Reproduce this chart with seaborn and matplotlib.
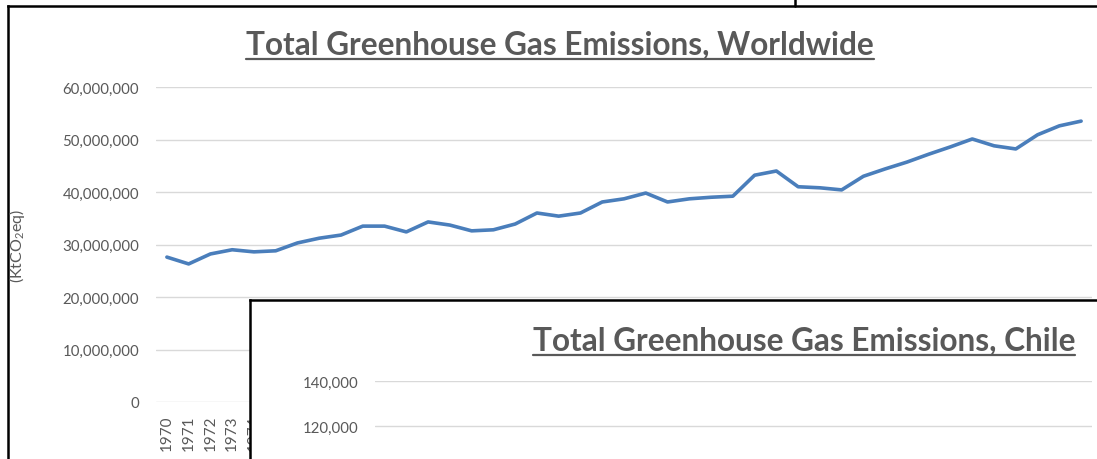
import matplotlib
matplotlib.use("Agg")
import matplotlib.pyplot as plt
from matplotlib.lines import Line2D
from matplotlib.ticker import FuncFormatter
import pandas as pd
import seaborn as sns


# ======================================================
# Data
# ======================================================

years = list(range(1970, 2013))

world_emissions = [
    27.6, 26.3, 28.2, 29.0, 28.6, 28.8, 30.3, 31.2, 31.8, 33.5,
    33.5, 32.4, 34.3, 33.7, 32.6, 32.8, 33.9, 36.0, 35.4, 36.0,
    38.1, 38.7, 39.8, 38.1, 38.7, 39.0, 39.2, 43.2, 44.0, 41.0,
    40.8, 40.4, 43.0, 44.4, 45.7, 47.2, 48.6, 50.1, 48.8, 48.2,
    50.9, 52.6, 53.5,
]
world_emissions = [v * 1_000_000 for v in world_emissions]

world_ticks = [0, 10_000_000, 20_000_000, 30_000_000, 40_000_000, 50_000_000, 60_000_000]
chile_ticks = [0, 20_000, 40_000, 60_000, 80_000, 100_000, 120_000, 140_000]

world_title = "Total Greenhouse Gas Emissions, Worldwide"
chile_title = "Total Greenhouse Gas Emissions, Chile"
y_label = "(KtCO$_2$eq)"


# ======================================================
# Style
# ======================================================

sns.set_theme(style="white")
plt.rcParams["font.family"] = ["Lato", "DejaVu Sans"]
plt.rcParams["mathtext.fontset"] = "custom"
plt.rcParams["mathtext.rm"] = "Lato"
plt.rcParams["mathtext.default"] = "regular"

W, H = 1097, 460
TEXT_GREY = "#595959"
GRID_GREY = "#d9d9d9"
LINE_BLUE = "#4a7ebb"


def px_rect(x0, y0, x1, y1):
    return [x0 / W, 1 - y1 / H, (x1 - x0) / W, (y1 - y0) / H]


def frame_axes(fig, rect, z):
    ax = fig.add_axes(rect)
    ax.set_zorder(z)
    ax.set_facecolor("white")
    ax.set_xticks([])
    ax.set_yticks([])
    for s in ax.spines.values():
        s.set_color("black")
        s.set_linewidth(1.8)
    return ax


comma_fmt = FuncFormatter(lambda v, p: f"{int(v):,}")

fig = plt.figure(figsize=(W / 100, H / 100), dpi=100)

# ======================================================
# Worldwide chart
# ======================================================

frame_axes(fig, px_rect(8, 7, 1120, 490), 0)

ax = fig.add_axes(px_rect(156, 88, 1092, 403))
ax.set_zorder(1)
ax.patch.set_alpha(0)

df = pd.DataFrame({"year": years, "emissions": world_emissions})
sns.lineplot(data=df, x="year", y="emissions", ax=ax,
             color=LINE_BLUE, linewidth=2.6)

ax.set_xlim(years[0] - 0.5, years[-1] + 0.5)
ax.set_ylim(world_ticks[0], world_ticks[-1])
ax.set_yticks(world_ticks)
ax.yaxis.set_major_formatter(comma_fmt)
ax.set_xticks(years)
ax.set_xticklabels([str(y) for y in years], rotation=90)
ax.grid(axis="y", color=GRID_GREY, linewidth=1)
ax.set_axisbelow(True)
ax.set_xlabel("")
ax.set_ylabel("")
for s in ax.spines.values():
    s.set_visible(False)
ax.tick_params(axis="y", length=0, pad=12, labelsize=10.8, labelcolor=TEXT_GREY)
ax.tick_params(axis="x", length=0, pad=9, labelsize=11, labelcolor=TEXT_GREY)

fig.text(17 / W, 1 - 246 / H, y_label, rotation=90, ha="center", va="center",
         fontsize=11.5, color=TEXT_GREY)

t1 = fig.text(560 / W, 1 - 54 / H, world_title, ha="center", va="baseline",
              fontsize=22.7, fontweight="bold", color=TEXT_GREY)

# ======================================================
# Chile chart (overlapping window)
# ======================================================

frame_axes(fig, px_rect(250, 301, 1120, 490), 2)

ax2 = fig.add_axes(px_rect(375, 382, 1092, 697))
ax2.set_zorder(3)
ax2.patch.set_alpha(0)
ax2.set_ylim(chile_ticks[0], chile_ticks[-1])
ax2.set_yticks(chile_ticks)
ax2.yaxis.set_major_formatter(comma_fmt)
ax2.set_xticks([])
ax2.grid(axis="y", color=GRID_GREY, linewidth=1)
for s in ax2.spines.values():
    s.set_visible(False)
ax2.tick_params(axis="y", length=0, pad=12, labelsize=10.8, labelcolor=TEXT_GREY)

t2 = fig.text(804 / W, 1 - 350 / H, chile_title, ha="center", va="baseline",
              fontsize=22.7, fontweight="bold", color=TEXT_GREY, zorder=10)

# top-right corner of another window behind
fig.add_artist(Line2D([795 / W, 795 / W], [1, 1 - 7 / H], color="black",
                      linewidth=1.8, transform=fig.transFigure))

# ======================================================
# Underlines for titles
# ======================================================

fig.canvas.draw()
renderer = fig.canvas.get_renderer()
for t, base in [(t1, 54), (t2, 350)]:
    bb = t.get_window_extent(renderer)
    uy = 1 - (base + 6) / H
    fig.add_artist(Line2D([bb.x0 / W, bb.x1 / W], [uy, uy], color=TEXT_GREY,
                          linewidth=1.6, transform=fig.transFigure, zorder=10))

fig.savefig("out.png", dpi=100)
plt.close()
